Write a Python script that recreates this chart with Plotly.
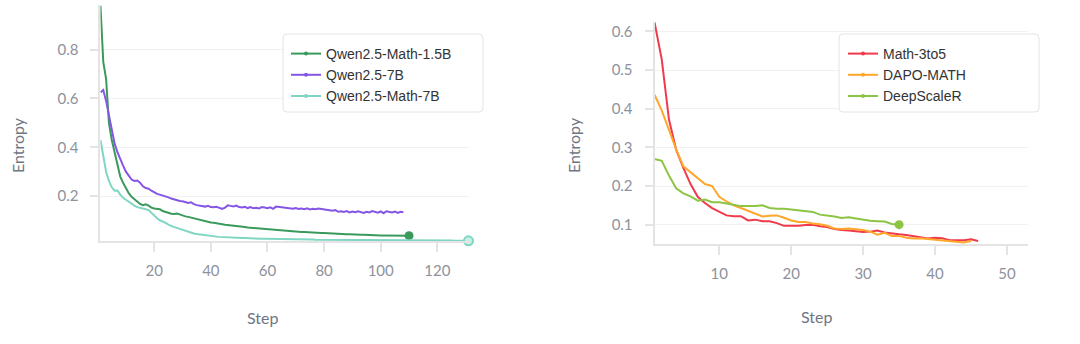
import plotly.graph_objects as go

# ---------------- data ----------------
qwen_math_15b = [
    0.980, 0.750, 0.680, 0.500, 0.430, 0.380, 0.320, 0.280, 0.255, 0.230,
    0.212, 0.197, 0.186, 0.176, 0.168, 0.163, 0.166, 0.161, 0.153, 0.149,
    0.147, 0.146, 0.139, 0.135, 0.131, 0.128, 0.127, 0.129, 0.125, 0.120,
    0.117, 0.115, 0.112, 0.109, 0.105, 0.101, 0.098, 0.095, 0.094, 0.092,
    0.091, 0.088, 0.086, 0.085, 0.083, 0.082, 0.080, 0.079, 0.077, 0.075,
    0.074, 0.073, 0.071, 0.070, 0.069, 0.068, 0.066, 0.065, 0.064, 0.063,
    0.062, 0.061, 0.060, 0.059, 0.058, 0.057, 0.057, 0.056, 0.055, 0.055,
    0.054, 0.053, 0.053, 0.052, 0.051, 0.051, 0.050, 0.050, 0.049, 0.049,
    0.048, 0.047, 0.047, 0.046, 0.046, 0.045, 0.045, 0.044, 0.044, 0.043,
    0.043, 0.042, 0.042, 0.042, 0.041, 0.041, 0.040, 0.040, 0.040, 0.039,
    0.039, 0.039, 0.038, 0.038, 0.038, 0.037, 0.037, 0.037, 0.038, 0.038,
]
qwen_7b = [
    0.625, 0.635, 0.590, 0.530, 0.470, 0.415, 0.380, 0.350, 0.325, 0.300,
    0.282, 0.268, 0.262, 0.264, 0.255, 0.240, 0.233, 0.230, 0.222, 0.215,
    0.209, 0.206, 0.203, 0.198, 0.195, 0.190, 0.186, 0.182, 0.180, 0.179,
    0.176, 0.172, 0.175, 0.167, 0.163, 0.160, 0.158, 0.157, 0.160, 0.155,
    0.154, 0.156, 0.152, 0.148, 0.153, 0.162, 0.160, 0.158, 0.161, 0.155,
    0.153, 0.156, 0.151, 0.155, 0.150, 0.152, 0.149, 0.155, 0.153, 0.150,
    0.154, 0.148, 0.157, 0.155, 0.156, 0.153, 0.152, 0.150, 0.148, 0.151,
    0.147, 0.149, 0.146, 0.150, 0.145, 0.148, 0.146, 0.149, 0.147, 0.146,
    0.144, 0.142, 0.140, 0.143, 0.136, 0.138, 0.135, 0.139, 0.133, 0.137,
    0.134, 0.138, 0.133, 0.131, 0.136, 0.133, 0.139, 0.135, 0.132, 0.137,
    0.130, 0.138, 0.135, 0.133, 0.137, 0.131, 0.136, 0.134,
]
qwen_math_7b = [
    0.430, 0.360, 0.300, 0.262, 0.236, 0.222, 0.223, 0.206, 0.193, 0.185,
    0.176, 0.168, 0.161, 0.155, 0.151, 0.148, 0.146, 0.143, 0.131, 0.119,
    0.109, 0.101, 0.097, 0.090, 0.083, 0.077, 0.073, 0.070, 0.066, 0.061,
    0.057, 0.053, 0.050, 0.047, 0.045, 0.043, 0.041, 0.039, 0.038, 0.036,
    0.035, 0.034, 0.033, 0.032, 0.032, 0.031, 0.030, 0.030, 0.029, 0.029,
    0.028, 0.028, 0.027, 0.027, 0.026, 0.026, 0.026, 0.025, 0.025, 0.025,
    0.025, 0.024, 0.024, 0.024, 0.024, 0.023, 0.023, 0.023, 0.023, 0.023,
    0.022, 0.022, 0.022, 0.022, 0.022, 0.022, 0.021, 0.021, 0.021, 0.021,
    0.021, 0.021, 0.021, 0.021, 0.020, 0.020, 0.020, 0.020, 0.020, 0.020,
    0.020, 0.020, 0.020, 0.020, 0.019, 0.019, 0.019, 0.019, 0.019, 0.019,
    0.019, 0.019, 0.019, 0.019, 0.019, 0.019, 0.018, 0.018, 0.018, 0.018,
    0.018, 0.018, 0.018, 0.018, 0.018, 0.018, 0.018, 0.018, 0.018, 0.018,
    0.018, 0.018, 0.018, 0.018, 0.018, 0.017, 0.017, 0.017, 0.017, 0.017, 0.017,
]
math_3to5 = [
    0.623, 0.527, 0.372, 0.294, 0.247, 0.205, 0.172, 0.156, 0.143, 0.134,
    0.124, 0.122, 0.122, 0.111, 0.113, 0.109, 0.109, 0.104, 0.097, 0.097,
    0.097, 0.099, 0.100, 0.096, 0.094, 0.089, 0.086, 0.085, 0.083, 0.081,
    0.082, 0.085, 0.080, 0.077, 0.075, 0.073, 0.070, 0.066, 0.064, 0.066,
    0.065, 0.060, 0.060, 0.060, 0.062, 0.058,
]
dapo_math = [
    0.436, 0.395, 0.345, 0.295, 0.251, 0.236, 0.222, 0.205, 0.200, 0.172,
    0.160, 0.150, 0.143, 0.136, 0.130, 0.121, 0.123, 0.124, 0.118, 0.111,
    0.107, 0.107, 0.103, 0.101, 0.097, 0.090, 0.089, 0.090, 0.088, 0.086,
    0.082, 0.074, 0.079, 0.071, 0.071, 0.066, 0.064, 0.065, 0.063, 0.061,
    0.060, 0.057, 0.055, 0.054, 0.058,
]
deepscaler = [
    0.270, 0.265, 0.227, 0.194, 0.181, 0.173, 0.162, 0.165, 0.158, 0.158,
    0.155, 0.151, 0.148, 0.148, 0.148, 0.150, 0.143, 0.141, 0.141, 0.139,
    0.137, 0.134, 0.133, 0.126, 0.124, 0.121, 0.117, 0.119, 0.116, 0.112,
    0.110, 0.109, 0.108, 0.102, 0.100,
]

# (name, values, colour, end-marker style or None)
left_series = [
    ("Qwen2.5-Math-1.5B", qwen_math_15b, "#3a9a5b", dict(size=9, color="#3a9a5b")),
    ("Qwen2.5-7B", qwen_7b, "#8556e6", None),
    ("Qwen2.5-Math-7B", qwen_math_7b, "#7fd6c2",
     dict(size=9, color="#c8f0e6", line=dict(color="#7fd6c2", width=2))),
]
right_series = [
    ("Math-3to5", math_3to5, "#f03a4c", None),
    ("DAPO-MATH", dapo_math, "#ffa62b", None),
    ("DeepScaleR", deepscaler, "#8cc443", dict(size=9, color="#8cc443")),
]
left_xticks = [20, 40, 60, 80, 100, 120]
left_yticks = [0.2, 0.4, 0.6, 0.8]
right_xticks = [10, 20, 30, 40, 50]
right_yticks = [0.1, 0.2, 0.3, 0.4, 0.5, 0.6]

# ---------------- figure ----------------
fig = go.Figure()

def add_series(series, xa, ya, legend):
    for name, vals, color, end_marker in series:
        steps = list(range(1, len(vals) + 1))
        fig.add_trace(go.Scatter(
            x=steps, y=vals, xaxis=xa, yaxis=ya, mode="lines",
            line=dict(color=color, width=2), showlegend=False, hoverinfo="skip",
        ))
        if end_marker is not None:
            fig.add_trace(go.Scatter(
                x=steps[-1:], y=vals[-1:], xaxis=xa, yaxis=ya, mode="markers",
                marker=end_marker, showlegend=False, cliponaxis=False,
                hoverinfo="skip",
            ))
        # legend entry
        fig.add_trace(go.Scatter(
            x=[None], y=[None], xaxis=xa, yaxis=ya, mode="lines+markers", name=name,
            line=dict(color=color, width=2), marker=dict(size=4, color=color),
            legend=legend,
        ))

add_series(left_series, "x", "y", "legend")
add_series(right_series, "x2", "y2", "legend2")

AX = "#e4e4e4"
GRID = "#f1f1f1"
TICKFONT = dict(family="Lato", size=15, color="#8d929c")

def xax(domain, rng, ticks, anchor):
    return dict(domain=domain, range=rng, anchor=anchor, tickvals=ticks,
                ticks="outside", ticklen=9, tickwidth=1.5, tickcolor=AX,
                showline=True, linecolor=AX, linewidth=2, showgrid=False,
                zeroline=False, tickfont=TICKFONT, ticklabelstandoff=6)

def yax(domain, rng, ticks, anchor):
    return dict(domain=domain, range=rng, anchor=anchor, tickvals=ticks,
                ticks="outside", ticklen=8, tickwidth=1.5, tickcolor=AX,
                showline=True, linecolor=AX, linewidth=2, showgrid=True,
                gridcolor=GRID, gridwidth=1, zeroline=False, tickfont=TICKFONT,
                ticklabelstandoff=9)

def xover(base, rng, ticks, anchor):
    return dict(overlaying=base, anchor=anchor, range=rng, tickvals=ticks,
                ticks="inside", ticklen=7, tickwidth=1.5, tickcolor=AX,
                showticklabels=False, showline=False, showgrid=False, zeroline=False)

LD = [0.0930, 0.4343]
LY = [0.2990, 0.9869]
RD = [0.6061, 0.9523]
RY = [0.2907, 0.9369]

TITLE = dict(family="Lato", size=16, color="#6e7583")
LEGFONT = dict(family="Liberation Sans", size=14, color="#333333")

def box_path(x0, x1, ytop, ybot, r=4):
    # rounded rectangle in paper coordinates from pixel positions
    W, H = 1080.0, 344.0
    X0, X1 = x0 / W, x1 / W
    Y0, Y1 = 1 - ybot / H, 1 - ytop / H
    rx, ry = r / W, r / H
    return (f"M{X0+rx},{Y0} L{X1-rx},{Y0} Q{X1},{Y0} {X1},{Y0+ry} "
            f"L{X1},{Y1-ry} Q{X1},{Y1} {X1-rx},{Y1} L{X0+rx},{Y1} "
            f"Q{X0},{Y1} {X0},{Y1-ry} L{X0},{Y0+ry} Q{X0},{Y0} {X0+rx},{Y0} Z")

legend_boxes = [
    dict(type="path", xref="paper", yref="paper", path=box_path(283, 483, 34, 112),
         fillcolor="white", line=dict(color="#e4e4e4", width=1), layer="above"),
    dict(type="path", xref="paper", yref="paper", path=box_path(839, 1039, 34, 112),
         fillcolor="white", line=dict(color="#e4e4e4", width=1), layer="above"),
]

fig.update_layout(
    width=1080, height=344,
    margin=dict(l=0, r=0, t=0, b=0),
    paper_bgcolor="white", plot_bgcolor="white",
    xaxis=xax(LD, [1, 131.2], left_xticks, "y"),
    yaxis=yax(LY, [0.0155, 0.985], left_yticks, "x"),
    xaxis2=xax(RD, [1, 53], right_xticks, "y2"),
    yaxis2=yax(RY, [0.05, 0.625], right_yticks, "x2"),
    xaxis3=xover("x", [1, 131.2], left_xticks, "y"),
    xaxis4=xover("x2", [1, 53], right_xticks, "y2"),
    shapes=legend_boxes,
    legend=dict(x=286 / 1080, y=1 - 38 / 344, xanchor="left", yanchor="top",
                bgcolor="rgba(0,0,0,0)", borderwidth=0, font=LEGFONT),
    legend2=dict(x=843 / 1080, y=1 - 38 / 344, xanchor="left", yanchor="top",
                 bgcolor="rgba(0,0,0,0)", borderwidth=0, font=LEGFONT),
    annotations=[
        dict(text="Step", x=0.2435, y=0.0756, xref="paper", yref="paper",
             showarrow=False, font=TITLE, xanchor="center", yanchor="middle"),
        dict(text="Step", x=0.7556, y=0.0785, xref="paper", yref="paper",
             showarrow=False, font=TITLE, xanchor="center", yanchor="middle"),
        dict(text="Entropy", x=0.0167, y=0.5785, xref="paper", yref="paper",
             showarrow=False, font=TITLE, textangle=-90, xanchor="center", yanchor="middle"),
        dict(text="Entropy", x=0.5315, y=0.5785, xref="paper", yref="paper",
             showarrow=False, font=TITLE, textangle=-90, xanchor="center", yanchor="middle"),
    ],
)

fig.write_html("out.html")
